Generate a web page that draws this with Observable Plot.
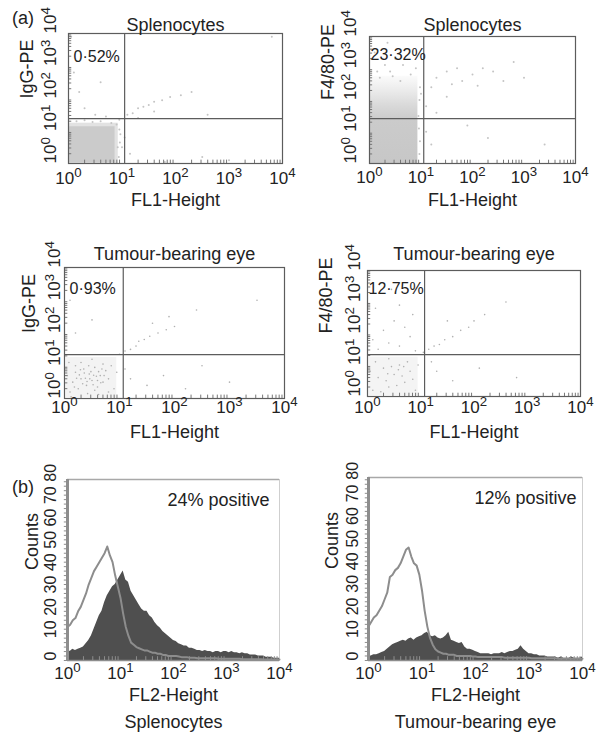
<!DOCTYPE html>
<html><head><meta charset="utf-8">
<script src="https://cdn.jsdelivr.net/npm/d3@7"></script>
<script src="https://cdn.jsdelivr.net/npm/@observablehq/plot@0.6"></script>
<style>
html,body{margin:0;padding:0;background:#fff;overflow:hidden;}
#root{position:relative;width:599px;height:740px;font-family:'Liberation Sans',Arial,Helvetica,sans-serif;color:#222;}
.panel{position:absolute;}
.tag{position:absolute;font-size:18px;line-height:20px;}
</style></head><body><div id="root"></div>
<script>
// ---------- data ----------
const decades = [1, 10, 100, 1000, 10000];
const minorMultipliers = [2, 3, 4, 5, 6, 7, 8, 9];
const countTicks = [0, 10, 20, 30, 40, 50, 60, 70, 80];
const countMinor = [0, 2, 4, 6, 8, 10, 12, 14, 16, 18, 20, 22, 24, 26, 28, 30, 32, 34, 36, 38, 40, 42, 44, 46, 48, 50, 52, 54, 56, 58, 60, 62, 64, 66, 68, 70, 72, 74, 76, 78, 80];

const panelTitles = ["Splenocytes", "Splenocytes", "Tumour-bearing eye", "Tumour-bearing eye"];
const yLabels = ["IgG-PE", "F4/80-PE", "IgG-PE", "F4/80-PE"];
const percentLabels = ["0·52%", "23·32%", "0·93%", "12·75%"];
const xLabelScatter = "FL1-Height";
const xLabelHist = "FL2-Height";
const histTitles = ["Splenocytes", "Tumour-bearing eye"];
const positiveLabels = ["24% positive", "12% positive"];
const countsLabel = "Counts";

// quadrant gates (FL1, PE)
const gateX = [11.2, 11.3, 11.7, 11.8];
const gateY = [24, 26, 22, 21.5];

// dense cloud regions, log10 units: [x1, x2, y1, y2, shade]
const cloud1 = [[0, 0.93, 0, 1.24, "#e2e2e2"], [0.02, 0.87, 0.02, 1.13, "#cbcbcb"]];
const cloud2 = [[0, 0.94, 0, 2.75, "fade"]];
const cloud3 = [[0.03, 0.95, 0.03, 1.25, "#f3f3f3"]];
const cloud4 = [[0.03, 0.95, 0.03, 1.25, "#f4f4f4"]];

// individual events, log10 units: [FL1, PE]
const dots1 = [[0.95,1.35],[1.1,1.5],[1.2,1.55],[1.3,1.7],[1.4,1.75],[1.5,1.8],[1.6,1.9],[1.75,1.95],[1.9,2.05],[2.1,2.1],[0.5,1.5],[0.3,1.7],[0.7,1.45],[0.2,2.2],[1.0,0.5],[1.05,0.8],[1.15,0.3],[2.5,0.2],[3.0,0.1],[1.8,0.05],[0.4,3.3],[0.1,2.8],[0.6,2.5],[3.8,3.9],[0.05,3.9],[0.92,0.5],[0.97,0.9],[0.94,0.2],[0.6,1.3],[0.3,1.33],[0.8,1.25],[1.3,1.4],[1.6,1.6],[2.3,2.2],[2.6,1.5],[0.9,1.2],[0.95,1.05],[0.45,1.28],[0.15,1.3],[0.96,0.65]];
const dots2 = [[0.2,2.7],[0.4,2.9],[0.6,2.6],[0.3,3.1],[0.5,3.3],[0.8,2.8],[0.1,3.5],[0.7,3.6],[0.35,3.8],[0.9,3.0],[1.0,2.2],[1.2,2.4],[1.3,2.7],[1.5,2.9],[1.7,3.0],[1.8,2.6],[2.0,2.8],[2.2,3.0],[2.4,2.9],[2.6,2.6],[1.1,1.8],[1.3,1.6],[1.5,2.1],[1.9,1.2],[2.3,0.8],[1.2,0.6],[1.1,1.0],[0.97,2.0],[3.0,2.7],[2.8,3.2],[0.95,1.5],[0.98,0.7],[0.15,2.9],[0.65,3.1],[0.45,2.75],[1.6,2.5],[2.1,2.45],[3.4,0.6],[0.96,1.1],[0.97,0.3],[0.98,2.4]];
const dots3 = [[0.1,0.2],[0.15,0.5],[0.2,0.8],[0.25,0.3],[0.3,0.6],[0.35,0.9],[0.4,0.4],[0.45,0.75],[0.5,0.55],[0.55,0.95],[0.6,0.35],[0.65,0.7],[0.7,0.5],[0.75,0.85],[0.8,0.6],[0.85,1.0],[0.9,0.3],[0.95,0.8],[0.3,1.1],[0.5,1.2],[0.7,1.05],[0.2,1.0],[0.42,0.15],[0.62,0.12],[0.8,0.2],[0.05,0.7],[0.08,1.1],[0.12,0.05],[0.38,0.62],[0.48,0.82],[0.58,0.68],[0.52,0.42],[0.68,0.9],[0.33,0.45],[0.44,1.0],[0.27,0.72],[0.6,0.55],[0.72,0.7],[0.55,0.25],[0.18,0.35],[0.36,0.78],[0.46,0.6],[0.62,0.82],[0.41,0.52],[0.53,0.71],[0.29,0.88],[0.66,0.48],[0.22,0.62],[1.0,1.35],[1.1,1.45],[1.2,1.5],[1.3,1.6],[1.35,1.75],[1.45,1.8],[1.55,1.9],[1.7,2.0],[1.85,2.1],[2.0,2.2],[1.6,2.3],[1.9,2.5],[1.2,0.6],[1.5,0.4],[1.8,0.7],[2.2,0.3],[1.1,0.9],[2.5,1.0],[3.0,0.5],[0.2,2.0],[0.5,2.4],[0.1,3.0],[2.4,2.7],[3.5,3.0]];
const dots4 = [[0.1,0.2],[0.2,0.6],[0.3,0.9],[0.4,0.3],[0.5,0.7],[0.6,1.0],[0.7,0.45],[0.8,0.8],[0.9,0.2],[0.15,1.1],[0.35,0.5],[0.45,0.95],[0.55,0.35],[0.65,0.65],[0.75,1.1],[0.85,0.55],[0.25,0.15],[0.05,0.8],[0.95,1.0],[0.4,1.2],[0.58,0.85],[0.38,0.72],[0.68,0.95],[0.2,1.5],[0.4,1.7],[0.6,1.6],[0.8,1.9],[0.3,2.1],[0.5,2.4],[0.7,2.2],[0.15,2.8],[0.6,2.9],[0.9,1.45],[0.1,1.8],[0.45,3.4],[0.85,2.6],[1.05,1.4],[1.15,1.5],[1.25,1.6],[1.35,1.65],[1.45,1.8],[1.6,1.9],[1.75,2.1],[1.9,2.2],[2.0,2.4],[2.2,2.6],[1.5,2.4],[2.6,3.0],[1.3,0.8],[1.6,0.5],[2.1,0.9],[2.8,0.6],[1.2,1.1]];

// histogram channels, log10(FL2)
const channelLog = [0,0.05,0.1,0.15,0.2,0.25,0.3,0.35,0.4,0.45,0.5,0.55,0.6,0.65,0.7,0.75,0.8,0.85,0.9,0.95,1,1.05,1.1,1.15,1.2,1.25,1.3,1.35,1.4,1.45,1.5,1.55,1.6,1.65,1.7,1.75,1.8,1.85,1.9,1.95,2,2.05,2.1,2.15,2.2,2.25,2.3,2.35,2.4,2.45,2.5,2.55,2.6,2.65,2.7,2.75,2.8,2.85,2.9,2.95,3,3.05,3.1,3.15,3.2,3.25,3.3,3.35,3.4,3.45,3.5,3.55,3.6,3.65,3.7,3.75,3.8,3.85,3.9,3.95,4];
const spleenOpen = [15,16,18,19,22,24,27,30,34,37,40,42,44,46,48,51,47,44,38,33,28,21,15,11,8,7,6,5.5,5,4.5,4.5,4,3.5,3.5,3,3,2.5,2.5,2,2,2,2,1.8,1.5,1.5,1.5,1.2,1.2,1.2,1,1,1,1,1,1,1,1,0.8,0.8,0.8,0.8,0.8,0.8,0.8,0.8,0.8,0.6,0.6,0.6,0.6,0.6,0.6,0.6,0.6,0.5,0.5,0.5,0.5,0.5,0.5,0.5];
const spleenFilled = [5,4,5,4.5,5,5.5,6,7.5,9,11,14,17,20,22,26,29,31,33,34,36,38,40,36,35,31,29,27,25,23,22,22,20,19,17,15.5,14.5,13,12,11,10,9,8.5,7.5,7,6.5,6.5,5.5,5.5,5,4.5,4.5,4,4.5,4,4,3.5,4,4,3.5,4,4,3.5,4,3.5,3.5,3,3.5,3,3,2.5,2.5,2.5,2,2,2,1.5,1.5,1.5,1,1,1];
const tumourOpen = [15,17,19,20,22,24,27,30,37,38,40,41,43,46,49,50,46,43,42,38,31,22,15,10,7,5,4,3.5,3,3,2.5,2.5,2.5,2,2,2,2,2,2,1.8,1.8,1.5,1.5,1.5,1.5,1.5,1.5,1.5,1.5,1.5,1.5,1.2,1.2,1.2,1.2,1.2,1.2,1.2,1.2,1.2,1.2,1,1,1,1,1,1,1,1,1,1,0.8,0.8,0.8,0.8,0.8,0.8,0.8,0.8,0.8,0.8];
const tumourFilled = [2,2,2.5,2.5,3,3.5,4,5,6,7,7.5,8,8.5,9,8.5,9.5,10,9,10,10.5,11,12,12.5,11,10.5,11,10,9.5,10,11,12.5,9,8.5,8,7.5,8,6,5,5,4.5,4,3.5,3,3,3,3,2.5,3,3,3,3.5,3,3.5,4,4,4.5,5,6.5,5,4,3,3,2.5,2.5,2,2,2,1.5,1.5,1.5,1.5,1,1.5,1,1,1,1.5,1,1,1,1.5];

// ---------- rendering ----------
const FONT = "'Liberation Sans', Arial, Helvetica, sans-serif";
const INK = "#222";
const LINE = "#5c5c5c";
const HIST = "#8d8d8d";
const NS = "http://www.w3.org/2000/svg";
const minor = decades.slice(0, 4).flatMap(d => minorMultipliers.map(m => d * m));
const sup = d => "10^" + Math.round(Math.log10(d));
const root = document.getElementById("root");
let gradCount = 0;

function fixSup(svg) {
  svg.querySelectorAll("text").forEach(t => {
    const m = /^10\^(\d)$/.exec(t.textContent);
    if (!m) return;
    t.textContent = "";
    const a = document.createElementNS(NS, "tspan"); a.textContent = "10";
    const b = document.createElementNS(NS, "tspan"); b.textContent = m[1];
    b.setAttribute("dy", "-0.48em"); b.setAttribute("font-size", "0.78em");
    t.append(a, b);
  });
}
function place(svg, left, top) {
  const div = document.createElement("div");
  div.className = "panel";
  div.style.left = left + "px"; div.style.top = top + "px";
  fixSup(svg);
  div.append(svg);
  root.append(div);
}

function scatter(o) {
  const gid = "fade" + (gradCount++);
  const defs = () => {
    const d = document.createElementNS(NS, "defs");
    d.innerHTML = `<linearGradient id="${gid}" x1="0" y1="1" x2="0" y2="0">
      <stop offset="0" stop-color="#c7c7c7"/><stop offset="0.5" stop-color="#cbcbcb"/>
      <stop offset="0.66" stop-color="#d9d9d9"/><stop offset="0.82" stop-color="#eaeaea"/>
      <stop offset="1" stop-color="#fbfbfb"/></linearGradient>`;
    return d;
  };
  const svg = Plot.plot({
    width: o.w, height: o.h, marginLeft: o.mL, marginTop: o.mT, marginRight: o.mR, marginBottom: o.mB,
    style: {fontFamily: FONT, background: "transparent", color: INK, overflow: "visible"},
    x: {type: "log", domain: [1, 1e4], axis: null},
    y: {type: "log", domain: [1, 1e4], axis: null},
    marks: [
      defs,
      Plot.rect(o.cloud, {x1: d => 10 ** d[0], x2: d => 10 ** d[1], y1: d => 10 ** d[2], y2: d => 10 ** d[3],
        fill: d => d[4] === "fade" ? `url(#${gid})` : d[4]}),
      Plot.dot(o.dots, {x: d => 10 ** d[0], y: d => 10 ** d[1], r: o.r, fill: o.dotFill}),
      Plot.ruleX(minor, {y1: 1, y2: 1.27, stroke: "#777"}),
      Plot.ruleY(minor, {x1: 1, x2: 1.15, stroke: "#777"}),
      Plot.frame({stroke: LINE, strokeWidth: 1.2}),
      Plot.ruleX([o.gx], {stroke: LINE, strokeWidth: 1.2}),
      Plot.ruleY([o.gy], {stroke: LINE, strokeWidth: 1.2}),
      Plot.text(decades, {x: d => d, frameAnchor: "bottom", dy: o.xtDy, text: sup, fontSize: 17, fill: INK}),
      Plot.text(decades, {y: d => d, frameAnchor: "left", dx: o.ytDx, rotate: -90, text: sup, fontSize: 17, fill: INK}),
      Plot.text([xLabelScatter], {frameAnchor: "bottom", dy: o.xlDy, text: d => d, fontSize: 18, fill: INK}),
      Plot.text([o.ylabel], {frameAnchor: "left", dx: o.ylDx, rotate: -90, text: d => d, fontSize: 18, fill: INK}),
      Plot.text([o.title], {frameAnchor: "top", dy: o.tDy, text: d => d, fontSize: 18, fill: INK}),
      Plot.text([o.pct], {frameAnchor: "top-left", dx: o.pDx, dy: o.pDy, textAnchor: "start", text: d => d, fontSize: 16, fill: INK})
    ]
  });
  place(svg, o.left, o.top);
}

function hist(o) {
  const table = channelLog.map((lx, i) => ({x: 10 ** lx, open: o.open[i], filled: o.filled[i]}));
  const svg = Plot.plot({
    width: o.w, height: o.h, marginLeft: o.mL, marginTop: o.mT, marginRight: o.mR, marginBottom: o.mB,
    style: {fontFamily: FONT, background: "transparent", color: INK, overflow: "visible"},
    x: {type: "log", domain: [1, 1e4], axis: null},
    y: {domain: [0, 81], axis: null},
    marks: [
      Plot.frame({stroke: "#cfcfcf"}),
      Plot.ruleY([81], {stroke: "#a8a8a8", strokeWidth: 1.5}),
      Plot.areaY(table, {x: "x", y: "filled", fill: "#4f4f4f"}),
      Plot.lineY(table, {x: "x", y: "open", stroke: HIST, strokeWidth: 2}),
      Plot.ruleY([0], {stroke: HIST, strokeWidth: 1.5}),
      Plot.ruleX(minor, {y1: 0, y2: 1.7, stroke: HIST}),
      Plot.ruleX([1], {stroke: HIST, strokeWidth: 3}),
      Plot.ruleY(countMinor, {x1: 10 ** -0.06, x2: 1, stroke: HIST}),
      Plot.text(decades, {x: d => d, frameAnchor: "bottom", dy: 18, text: sup, fontSize: 17, fill: INK}),
      Plot.text(countTicks, {y: d => d, frameAnchor: "left", dx: o.ytDx, rotate: -90, text: d => String(d), fontSize: 16, fill: INK}),
      Plot.text([xLabelHist], {frameAnchor: "bottom", dy: 40, text: d => d, fontSize: 18, fill: INK}),
      Plot.text([countsLabel], {frameAnchor: "left", dx: o.ylDx, rotate: -90, text: d => d, fontSize: 18, fill: INK}),
      Plot.text([o.title], {frameAnchor: "bottom", dy: 67, text: d => d, fontSize: 18, fill: INK}),
      Plot.text([o.pos], {frameAnchor: "top-right", dx: o.pDx, dy: 14, textAnchor: "end", text: d => d, fontSize: 18, fill: INK})
    ]
  });
  place(svg, o.left, o.top);
}

scatter({left: 0, top: 0, w: 300, h: 220, mL: 68, mT: 33, mR: 18, mB: 57, cloud: cloud1, dots: dots1, r: 1, dotFill: "#c4c4c4",
  gx: gateX[0], gy: gateY[0], xtDy: 20, ytDx: -18, xlDy: 42, ylDx: -41, tDy: -15, title: panelTitles[0], ylabel: yLabels[0], pct: percentLabels[0], pDx: 5, pDy: 17});
scatter({left: 300, top: 0, w: 299, h: 220, mL: 69, mT: 36, mR: 24, mB: 57, cloud: cloud2, dots: dots2, r: 1, dotFill: "#c4c4c4",
  gx: gateX[1], gy: gateY[1], xtDy: 19, ytDx: -19, xlDy: 42, ylDx: -41, tDy: -18, title: panelTitles[1], ylabel: yLabels[1], pct: percentLabels[1], pDx: 1, pDy: 12});
scatter({left: 0, top: 220, w: 300, h: 225, mL: 64, mT: 47, mR: 16, mB: 47, cloud: cloud3, dots: dots3, r: 0.8, dotFill: "#b0b0b0",
  gx: gateX[2], gy: gateY[2], xtDy: 14, ytDx: -10, xlDy: 39, ylDx: -35, tDy: -20, title: panelTitles[2], ylabel: yLabels[2], pct: percentLabels[2], pDx: 5, pDy: 15});
scatter({left: 300, top: 220, w: 299, h: 225, mL: 67, mT: 50, mR: 19, mB: 49, cloud: cloud4, dots: dots4, r: 0.8, dotFill: "#b0b0b0",
  gx: gateX[3], gy: gateY[3], xtDy: 16, ytDx: -13, xlDy: 41, ylDx: -41, tDy: -23, title: panelTitles[3], ylabel: yLabels[3], pct: percentLabels[3], pDx: 1, pDy: 12});

hist({left: 0, top: 460, w: 300, h: 280, mL: 67, mT: 19, mR: 21, mB: 80, open: spleenOpen, filled: spleenFilled,
  ytDx: -17, ylDx: -35, pDx: -10, title: histTitles[0], pos: positiveLabels[0]});
hist({left: 300, top: 460, w: 299, h: 280, mL: 68, mT: 17, mR: 17, mB: 80, open: tumourOpen, filled: tumourFilled,
  ytDx: -16, ylDx: -36, pDx: -6, title: histTitles[1], pos: positiveLabels[1]});

for (const [txt, top] of [["(a)", 8], ["(b)", 477]]) {
  const d = document.createElement("div");
  d.className = "tag"; d.style.left = "12px"; d.style.top = top + "px"; d.textContent = txt;
  root.append(d);
}
</script></body></html>
